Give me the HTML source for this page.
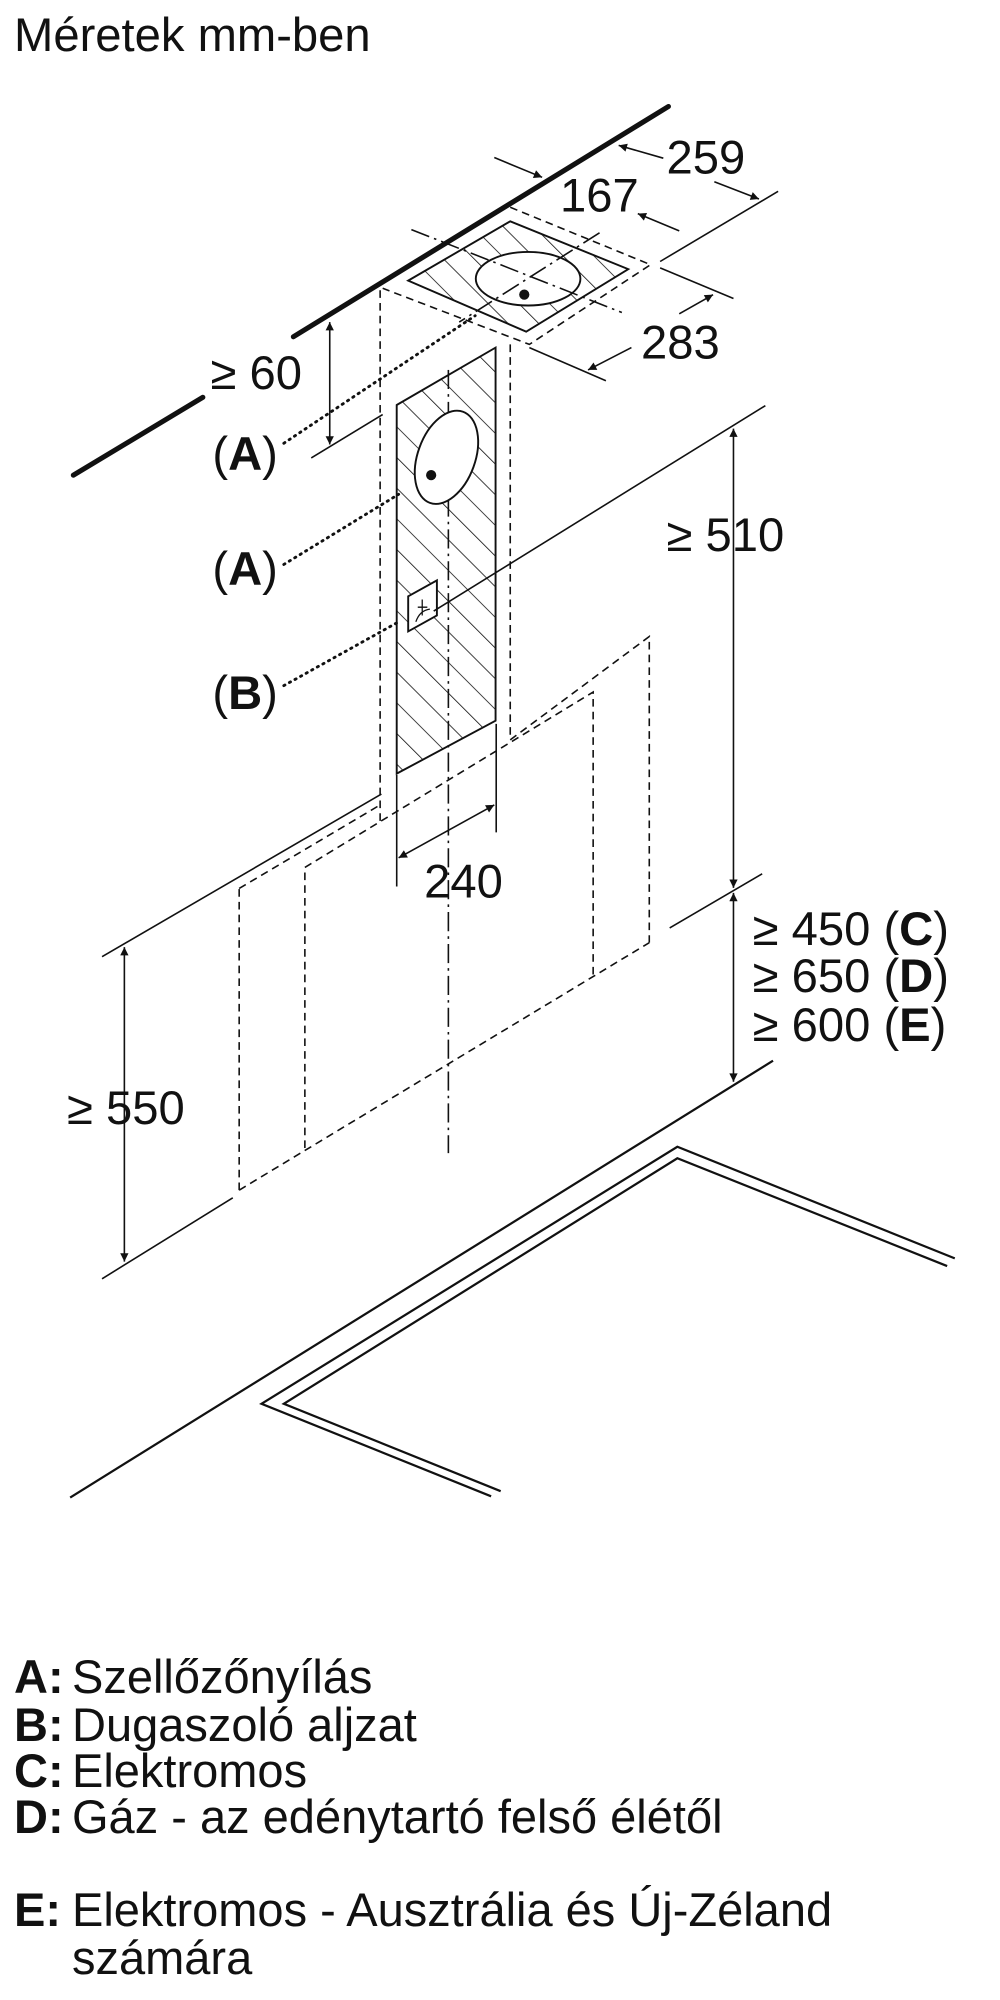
<!DOCTYPE html>
<html><head><meta charset="utf-8"><style>
html,body{margin:0;padding:0;background:#fff;}
svg{display:block;}
text{font-family:"Liberation Sans",Arial,sans-serif;fill:#111;}
</style></head><body>
<svg width="1000" height="2000" viewBox="0 0 1000 2000" xmlns="http://www.w3.org/2000/svg">
<defs>
<marker id="ar" viewBox="0 0 10 10" refX="10" refY="5" markerWidth="22" markerHeight="13" markerUnits="userSpaceOnUse" orient="auto-start-reverse">
<path d="M0,0 L10,5 L0,10 z" fill="#111"/></marker>
<pattern id="h" width="34" height="34" patternUnits="userSpaceOnUse" patternTransform="rotate(-45)">
<line x1="0" y1="0" x2="0" y2="34" stroke="#111" stroke-width="2.5"/></pattern>
</defs>
<g transform="scale(0.6378)" stroke="#111" fill="none" stroke-width="2.5">
<line x1="460" y1="528" x2="1048" y2="167" stroke-width="8" stroke-linecap="round"/>
<line x1="115" y1="745" x2="318" y2="623" stroke-width="8" stroke-linecap="round"/>
<g stroke-dasharray="12,8">
<polyline points="800,325 1020,415 830,540 600,452"/>
<line x1="596" y1="455" x2="596" y2="1290"/>
<line x1="800" y1="540" x2="800" y2="1160"/>
<polyline points="800,1160 1018,998 1018,1478"/>
<polyline points="478,1800 478,1360 930,1085 930,1530"/>
<line x1="375" y1="1866" x2="375" y2="1393"/>
<line x1="375" y1="1393" x2="596" y2="1262"/>
<line x1="375" y1="1866" x2="1018" y2="1478"/>
</g>
<polygon points="640,440 800,347 985,422 825,520" fill="url(#h)" stroke-width="3"/>
<ellipse cx="828" cy="437" rx="82" ry="42" fill="#fff" stroke-width="3"/>
<circle cx="822" cy="462" r="8" fill="#111" stroke="none"/>
<g stroke-dasharray="30,8,4,8">
<line x1="645" y1="360" x2="975" y2="490"/>
<line x1="940" y1="365" x2="720" y2="505"/>
<line x1="703" y1="580" x2="703" y2="1808"/>
</g>
<polygon points="622,635 777,545 777,1130 622,1213" fill="url(#h)" stroke-width="3"/>
<ellipse cx="700" cy="717" rx="45" ry="76" transform="rotate(20 700 717)" fill="#fff" stroke-width="3"/>
<circle cx="676" cy="745" r="8" fill="#111" stroke="none"/>
<polygon points="640,935 685,910 685,965 640,990" fill="#fff" stroke-width="3"/>
<path d="M652,975 q6,-18 22,-20 M662,940 v25 M655,952 h15" stroke-width="2"/>
<g stroke-dasharray="2,8" stroke-width="4.5" stroke-linecap="round">
<line x1="445" y1="695" x2="745" y2="495"/>
<line x1="445" y1="885" x2="625" y2="775"/>
<line x1="445" y1="1075" x2="625" y2="975"/>
</g>
<line x1="775" y1="247" x2="850" y2="278" marker-end="url(#ar)"/>
<line x1="1040" y1="248" x2="970" y2="228" marker-end="url(#ar)"/>
<line x1="1120" y1="285" x2="1190" y2="312" marker-end="url(#ar)"/>
<line x1="1220" y1="300" x2="1035" y2="410"/>
<line x1="1065" y1="362" x2="1000" y2="335" marker-end="url(#ar)"/>
<line x1="1035" y1="420" x2="1150" y2="468"/>
<line x1="830" y1="545" x2="950" y2="597"/>
<line x1="1065" y1="492" x2="1118" y2="462" marker-end="url(#ar)"/>
<line x1="990" y1="545" x2="922" y2="580" marker-end="url(#ar)"/>
<line x1="517" y1="505" x2="517" y2="697" marker-start="url(#ar)" marker-end="url(#ar)"/>
<line x1="488" y1="718" x2="600" y2="650"/>
<line x1="1200" y1="636" x2="680" y2="958"/>
<line x1="1150" y1="672" x2="1150" y2="1392" marker-start="url(#ar)" marker-end="url(#ar)"/>
<line x1="1195" y1="1370" x2="1050" y2="1455"/>
<line x1="622" y1="1215" x2="622" y2="1390"/>
<line x1="778" y1="1135" x2="778" y2="1305"/>
<line x1="625" y1="1345" x2="775" y2="1262" marker-start="url(#ar)" marker-end="url(#ar)"/>
<line x1="160" y1="1500" x2="598" y2="1245"/>
<line x1="195" y1="1485" x2="195" y2="1978" marker-start="url(#ar)" marker-end="url(#ar)"/>
<line x1="160" y1="2005" x2="365" y2="1878"/>
<line x1="1150" y1="1400" x2="1150" y2="1696" marker-start="url(#ar)" marker-end="url(#ar)"/>
<line x1="1212" y1="1663" x2="110" y2="2348" stroke-width="3.5"/>
<polyline points="770,2346 410,2201 1062,1798 1497,1973" stroke-width="3.5"/>
<polyline points="785,2338 445,2201 1062,1816 1485,1985" stroke-width="3.5"/>
</g>
<g transform="scale(0.6378)" font-size="74">
<text x="22" y="80">Méretek mm-ben</text>
<text x="1045" y="272">259</text>
<text x="878" y="332">167</text>
<text x="1005" y="562">283</text>
<text x="330" y="610">≥ 60</text>
<text x="333" y="737">(<tspan font-weight="bold">A</tspan>)</text>
<text x="333" y="917">(<tspan font-weight="bold">A</tspan>)</text>
<text x="333" y="1112">(<tspan font-weight="bold">B</tspan>)</text>
<text x="1045" y="864">≥ 510</text>
<text x="665" y="1407">240</text>
<text x="1180" y="1482">≥ 450 (<tspan font-weight="bold">C</tspan>)</text>
<text x="1180" y="1555">≥ 650 (<tspan font-weight="bold">D</tspan>)</text>
<text x="1180" y="1632">≥ 600 (<tspan font-weight="bold">E</tspan>)</text>
<text x="105" y="1762">≥ 550</text>
</g>
<g font-size="47">
<text x="14" y="1693"><tspan font-weight="bold">A:</tspan><tspan x="72">Szellőzőnyílás</tspan></text>
<text x="14" y="1741"><tspan font-weight="bold">B:</tspan><tspan x="72">Dugaszoló aljzat</tspan></text>
<text x="14" y="1787"><tspan font-weight="bold">C:</tspan><tspan x="72">Elektromos</tspan></text>
<text x="14" y="1833"><tspan font-weight="bold">D:</tspan><tspan x="72">Gáz - az edénytartó felső élétől</tspan></text>
<text x="14" y="1926"><tspan font-weight="bold">E:</tspan><tspan x="72">Elektromos - Ausztrália és Új-Zéland</tspan></text>
<text x="72" y="1974">számára</text>
</g>
</svg>
</body></html>
